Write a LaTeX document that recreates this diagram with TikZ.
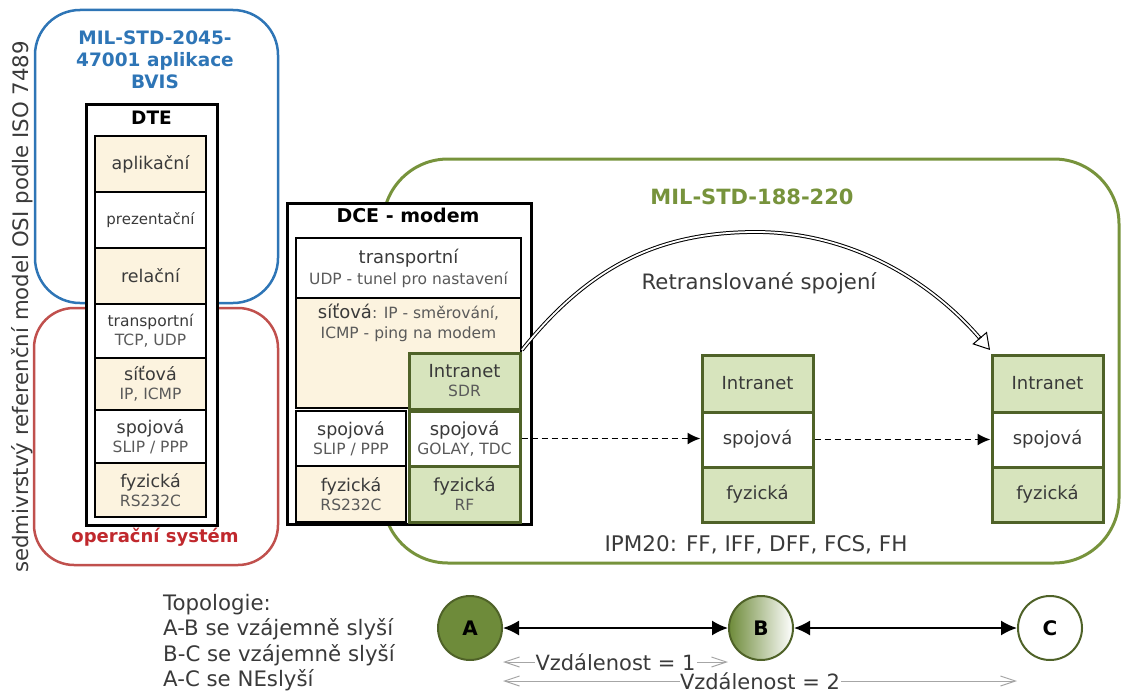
\documentclass[tikz,border=0pt]{standalone}
\usepackage{fontspec}
\setmainfont{DejaVu Sans}
\usetikzlibrary{arrows.meta,calc}
\definecolor{cream}{HTML}{FCF3DF}
\definecolor{lgreen}{HTML}{D7E4BD}
\definecolor{dgreen}{HTML}{4F6228}
\definecolor{olive}{HTML}{77933C}
\definecolor{nodeA}{HTML}{6E8B3A}
\definecolor{myblue}{HTML}{2E75B6}
\definecolor{redline}{HTML}{C0504D}
\definecolor{redtext}{HTML}{C0282D}
\definecolor{txt}{HTML}{3A3A3A}
\definecolor{subtxt}{HTML}{5A5A5A}
\definecolor{distgray}{HTML}{A6A6A6}
\newcommand{\fsz}[2]{\fontsize{#1}{#2}\selectfont}
\newcommand{\subl}[1]{{\fsz{15.5}{19}\color{subtxt}#1}}
\tikzset{
  region/.style={line width=2.5pt, inner sep=0pt},
  outerbox/.style={draw=black, line width=3pt, fill=white, inner sep=0pt},
  layer/.style={draw=black, line width=1.6pt, inner sep=0pt, align=center, text=txt, font=\fsz{17.5}{19}},
  glayer/.style={draw=dgreen, line width=3pt, inner sep=0pt, align=center, text=txt, font=\fsz{18}{19}},
  title/.style={font=\bfseries\fsz{18.5}{22}, align=center, inner sep=0pt},
  plain/.style={text=txt, inner sep=0pt},
  station/.style={circle, draw=dgreen, line width=2pt, minimum size=64pt, inner sep=0pt, font=\bfseries\fsz{20}{22}, text=black},
  link/.style={line width=1.8pt, {Latex[length=16pt,width=15pt]}-{Latex[length=16pt,width=15pt]}},
  dlink/.style={line width=1.7pt, dash pattern=on 6pt off 4pt, -{Latex[length=13pt,width=12pt]}},
  dist/.style={draw=distgray, line width=1pt, {Straight Barb[length=15pt,width=10pt]}-{Straight Barb[length=15pt,width=10pt]}},
}
\begin{document}
\begin{tikzpicture}[x=1pt,y=-1pt]
\useasboundingbox (0,0) rectangle (1121,693);
% vertical caption
\node[rotate=90, text=txt, font=\fsz{21.3}{26}, inner sep=0pt] (osi) at (22,307) {sedmivrstvý referenční model OSI podle ISO 7489};
% regions
\node[region, draw=myblue, rounded corners=45pt, minimum width=243pt, minimum height=293pt] (bvis) at (156.5,156.5) {};
\node[region, draw=redline, rounded corners=40pt, minimum width=244pt, minimum height=257pt] (os) at (156,436.5) {};
\node[region, draw=olive, line width=3pt, rounded corners=65pt, minimum width=736pt, minimum height=404pt] (net) at (751,361) {};
\node[title, text=myblue, font=\bfseries\fsz{18.5}{22}] (bvist) at (155,60) {MIL-STD-2045-\\47001 aplikace\\BVIS};
\node[title, text=redtext, font=\bfseries\fsz{18}{22}] (ost) at (155,537) {operační systém};
\node[title, text=olive, font=\bfseries\fsz{21}{24}] (nett) at (752,197) {MIL-STD-188-220};
% DTE
\node[outerbox, minimum width=131pt, minimum height=421pt] (dte) at (151.5,314.5) {};
\node[title] (dtet) at (151.5,118) {DTE};
\node[layer, fill=cream, minimum width=111pt, minimum height=56pt] (apl) at (150.5,164) {aplikační};
\node[layer, minimum width=111pt, minimum height=56pt, font=\fsz{15}{19}] (pre) at (150.5,220) {prezentační};
\node[layer, fill=cream, minimum width=111pt, minimum height=56pt] (rel) at (150.5,276) {relační};
\node[layer, minimum width=111pt, minimum height=54pt, font=\fsz{15.5}{19}] (tra) at (150.5,331) {transportní\\\subl{TCP, UDP}};
\node[layer, fill=cream, minimum width=111pt, minimum height=52pt] (sit) at (150.5,384) {síťová\\\subl{IP, ICMP}};
\node[layer, minimum width=111pt, minimum height=53pt] (spo) at (150.5,436.5) {spojová\\\subl{SLIP / PPP}};
\node[layer, fill=cream, minimum width=111pt, minimum height=54pt] (fyz) at (150.5,490) {fyzická\\\subl{RS232C}};
% DCE
\node[outerbox, minimum width=244pt, minimum height=321pt] (dce) at (409,363.5) {};
\node[title, font=\bfseries\fsz{19}{22}] (dcet) at (408,215) {DCE - modem};
\node[layer, minimum width=225pt, minimum height=60pt, font=\fsz{18}{21}] (mtra) at (408.5,268) {transportní\\\subl{UDP - tunel pro nastavení}};
\node[layer, fill=cream, minimum width=225pt, minimum height=110pt] (msit) at (408.5,353) {};
\node[plain, align=center, font=\fsz{18}{20}] (msitt) at (408.5,323) {síťová\subl{: IP - směrování,}\\\subl{ICMP - ping na modem}};
\node[glayer, fill=lgreen, minimum width=111pt, minimum height=56pt] (sdr) at (464.5,381) {Intranet\\\subl{SDR}};
\node[layer, line width=2.5pt, minimum width=110pt, minimum height=55pt] (mspo) at (351,438.5) {spojová\\\subl{SLIP / PPP}};
\node[layer, fill=cream, minimum width=110pt, minimum height=56pt] (mfyz) at (351,494) {fyzická\\\subl{RS232C}};
\node[glayer, fill=white, minimum width=111pt, minimum height=55pt] (gol) at (464.5,438.5) {spojová\\\subl{GOLAY, TDC}};
\node[glayer, fill=lgreen, minimum width=111pt, minimum height=56pt] (rf) at (464.5,494) {fyzická\\\subl{RF}};
% relay stacks
\node[glayer, fill=lgreen, minimum width=111pt, minimum height=57pt] (bi) at (757.5,383.5) {Intranet};
\node[glayer, fill=white, minimum width=111pt, minimum height=55pt] (bs) at (757.5,439.5) {spojová};
\node[glayer, fill=lgreen, minimum width=111pt, minimum height=55pt] (bf) at (757.5,494.5) {fyzická};
\node[glayer, fill=lgreen, minimum width=111pt, minimum height=57pt] (ci) at (1047.5,383.5) {Intranet};
\node[glayer, fill=white, minimum width=111pt, minimum height=55pt] (cs) at (1047.5,439.5) {spojová};
\node[glayer, fill=lgreen, minimum width=111pt, minimum height=55pt] (cf) at (1047.5,494.5) {fyzická};
% texts
\node[plain, font=\fsz{21.2}{24}] (retr) at (759,283) {Retranslované spojení};
\node[plain, font=\fsz{21.5}{24}] (ipm) at (756,545) {IPM20: FF, IFF, DFF, FCS, FH};
% dashed links
\draw[dlink] (gol.east) -- (gol.east -| bs.west);
\draw[dlink] (bs.east) -- (cs.west);
% relayed connection arc
\coordinate (arcS) at ($(sdr.north east)+(0.5,-1.5)$);
\coordinate (arcE) at ($(ci.north west)+(-0.5,-3.5)$);
\coordinate (arcM) at (756,232);
\draw[draw=black, double=white, double distance=1.8pt, line width=1pt, shorten >=15pt] (arcS) .. controls (590,265) and (660,232) .. (arcM) .. controls (850,232) and (930,280) .. (arcE);
\draw[line width=1pt, -{Triangle[open, length=16pt, width=19pt]}] ($(arcE)!16.5pt!(930,280)$) -- (arcE);
% topology
\node[plain, anchor=north west, align=left, font=\fsz{21.3}{25.5}] (topo) at (163,594) {Topologie:\\A-B se vzájemně slyší\\B-C se vzájemně slyší\\A-C se NEslyší};
\node[station, fill=nodeA] (A) at (470,628) {A};
\node[station, left color=nodeA, right color=white] (B) at (761,628) {B};
\node[station, fill=white] (C) at (1050,628) {C};
\draw[link] (A) -- (B);
\draw[link] (B) -- (C);
\coordinate (d1s) at (A.east |- 0,662);
\coordinate (d1e) at (B.west |- 0,662);
\coordinate (d2s) at (A.east |- 0,681);
\coordinate (d2e) at (C.west |- 0,681);
\draw[dist] (d1s) -- node[fill=white, text=txt, font=\fsz{21}{24}, inner sep=1pt] (d1t) {Vzdálenost = 1} (d1e);
\draw[dist] (d2s) -- node[fill=white, text=txt, font=\fsz{21}{24}, inner sep=0.5pt] (d2t) {Vzdálenost = 2} (d2e);
\end{tikzpicture}
\end{document}
